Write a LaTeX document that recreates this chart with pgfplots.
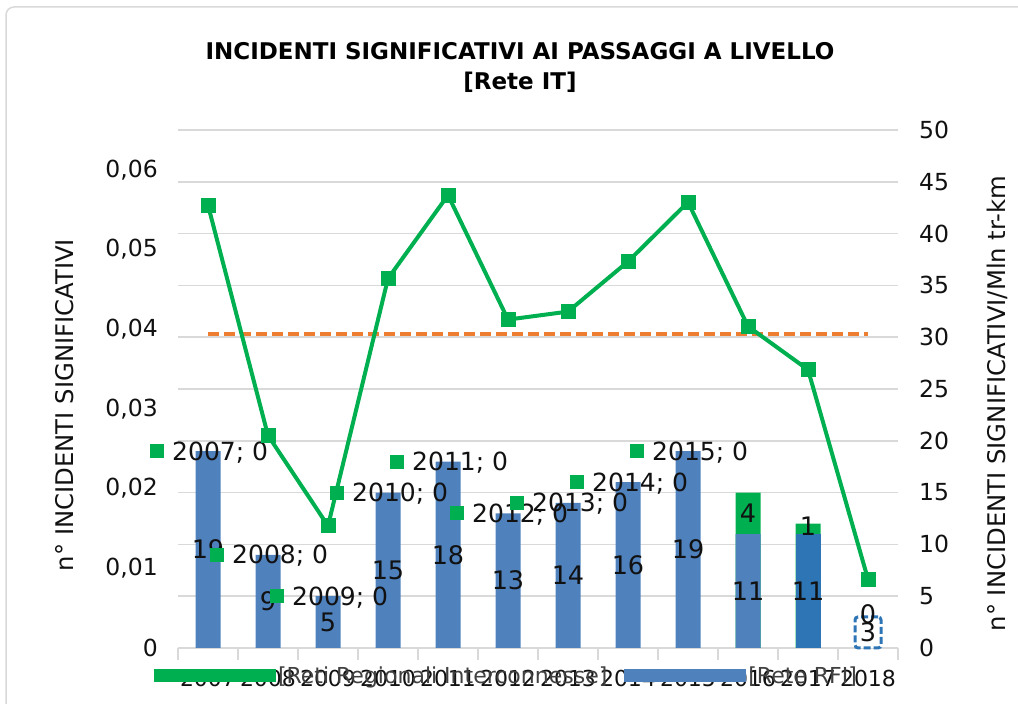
\documentclass[border=0pt]{standalone}
\usepackage{pgfplots}
\usepackage{pgfplotstable}
\pgfplotsset{compat=1.18}
\usepackage{fontspec}
\setmainfont{DejaVu Sans}
\definecolor{rfiblue}{HTML}{4F81BD}
\definecolor{rfidark}{HTML}{2E75B6}
\definecolor{rrigreen}{HTML}{00B050}
\definecolor{reforange}{HTML}{ED7D31}
\definecolor{gridgray}{HTML}{D9D9D9}
\definecolor{txt}{HTML}{111111}
\definecolor{legtxt}{HTML}{404040}

% Rete RFI (right scale)
\pgfplotstableread{
x val
0 19
1 9
2 5
3 15
4 18
5 13
6 14
7 16
8 19
9 11
}\rfiA
\pgfplotstableread{
x val
10 11
}\rfiB
\pgfplotstableread{
x val
11 3
}\rfiC
% totals RFI + Reti Regionali (green part on top)
\pgfplotstableread{
x val
9 15
10 12
}\totals
% value labels, centred in the bars
\pgfplotstableread{
x y lab
0 9.5 19
1 4.5 9
2 2.5 5
3 7.5 15
4 9 18
5 6.5 13
6 7 14
7 8 16
8 9.5 19
9 5.5 11
10 5.5 11
11 1.5 3
}\rfilabels
\pgfplotstableread{
x y lab
9 13 4
10 11.8 1
11 3.3 0
}\rrilabels
% Reti Regionali labels with legend key (value 0) at top of stack
\pgfplotstableread{
x y year
0 19 2007
1 9 2008
2 5 2009
3 15 2010
4 18 2011
5 13 2012
6 14 2013
7 16 2014
8 19 2015
}\rrikeylabels
% rate line (left scale)
\pgfplotstableread{
x rate
0 0.05557
1 0.02667
2 0.01533
3 0.04636
4 0.05682
5 0.04121
6 0.04221
7 0.04849
8 0.05594
9 0.04036
10 0.03492
11 0.00863
}\rate
\pgfplotstableread{
x ref
0 0.03936
11 0.03936
}\reference

\begin{document}
\begin{tikzpicture}[x=1pt,y=1pt]
\path[use as bounding box] (0,0) rectangle (1018,704);
\draw[gridgray, line width=1.5pt, rounded corners=8pt] (6,697) rectangle (1060,-30);

\node[font=\bfseries\fontsize{23}{30}\selectfont, align=center, text=black] at (520,637)
  {INCIDENTI SIGNIFICATIVI AI PASSAGGI A LIVELLO\\{[Rete IT]}};

% ---------- right scale axis: bars -------------
\begin{axis}[
  at={(178pt,56pt)}, anchor=south west, scale only axis,
  width=720pt, height=518pt,
  xmin=-0.5, xmax=11.5, ymin=0, ymax=50,
  clip=false,
  axis x line*=bottom, axis y line*=right,
  x axis line style={gridgray, line width=1.5pt},
  y axis line style={draw=none},
  xtick={0,...,11},
  xticklabels={2007,2008,2009,2010,2011,2012,2013,2014,2015,2016,2017,2018},
  minor xtick={-0.5,0.5,...,11.5},
  tick align=outside,
  major tick length=0pt, minor tick length=12pt,
  minor tick style={gridgray, line width=1.5pt},
  ytick={0,5,...,50},
  ymajorgrids, grid style={gridgray, line width=1.5pt},
  /pgf/number format/assume math mode=true,
  yticklabel style={anchor=west, inner sep=0pt, xshift=21pt, font=\fontsize{23.5}{27}\selectfont, text=txt},
  xticklabel style={anchor=north, inner sep=0pt, yshift=-22pt, font=\fontsize{22}{26}\selectfont, text=txt},
  legend style={at={(axis description cs:-0.0333,-0.054)}, anchor=west, draw=none, fill=none,
    inner sep=0pt, outer sep=0pt, legend columns=2,
    font=\fontsize{22}{26}\selectfont, text=legtxt,
    /tikz/every even column/.append style={column sep=15pt}},
  legend cell align=left,
  legend image code/.code={\fill[#1] (0pt,-6.5pt) rectangle (122pt,6.5pt);},
]
\addplot[ybar, bar width=25pt, bar shift=0pt, fill=rrigreen, draw=none, forget plot] table[x=x,y=val]{\totals};
\addplot[ybar, bar width=25pt, bar shift=0pt, fill=rfiblue, draw=none, forget plot] table[x=x,y=val]{\rfiA};
\addplot[ybar, bar width=25pt, bar shift=0pt, fill=rfidark, draw=none, forget plot] table[x=x,y=val]{\rfiB};
\addplot[ybar, bar width=26pt, bar shift=0pt, fill=white, draw=rfidark, line width=3pt,
  dash pattern=on 7pt off 3pt, rounded corners=3pt, forget plot] table[x=x,y=val]{\rfiC};

\addplot[draw=none, mark=none, forget plot, nodes near coords, point meta=explicit symbolic,
  every node near coord/.style={anchor=center, inner sep=0pt, font=\fontsize{25.5}{28}\selectfont, text=txt}]
  table[x=x,y=y,meta=lab]{\rfilabels};
\addplot[draw=none, mark=none, forget plot, nodes near coords, point meta=explicit symbolic,
  every node near coord/.style={anchor=center, inner sep=0pt, font=\fontsize{25.5}{28}\selectfont, text=txt}]
  table[x=x,y=y,meta=lab]{\rrilabels};
\addplot[draw=none, mark=none, forget plot,
  nodes near coords={\textcolor{rrigreen}{\raisebox{2pt}{\rule{14pt}{14pt}}}\hspace{8pt}\pgfplotspointmeta; 0},
  point meta=explicit symbolic,
  every node near coord/.style={anchor=base west, inner sep=0pt, xshift=-58pt, yshift=-9pt,
     font=\fontsize{25}{28}\selectfont, text=txt}]
  table[x=x,y=y,meta=year]{\rrikeylabels};

\addlegendimage{fill=rrigreen, draw=none}
\addlegendentry{[Reti Regionali Interconnesse]}
\addlegendimage{fill=rfiblue, draw=none}
\addlegendentry{[Rete RFI]}
\end{axis}

% ---------- left scale axis: rate line -------------
\begin{axis}[
  at={(178pt,56pt)}, anchor=south west, scale only axis,
  width=720pt, height=518pt,
  xmin=-0.5, xmax=11.5, ymin=0, ymax=0.065,
  axis x line=none, axis y line*=left,
  y axis line style={draw=none},
  major tick length=0pt,
  scaled y ticks=false,
  ytick={0,0.01,0.02,0.03,0.04,0.05,0.06},
  yticklabels={0,{0,01},{0,02},{0,03},{0,04},{0,05},{0,06}},
  yticklabel style={anchor=east, inner sep=0pt, xshift=-20pt, font=\fontsize{23.5}{27}\selectfont, text=txt},
]
\addplot[reforange, line width=4pt, dash pattern=on 11pt off 5pt, mark=none] table[x=x,y=ref]{\reference};
\addplot[rrigreen, line width=4pt, mark=square*, mark size=7pt,
  mark options={solid, fill=rrigreen, draw=rrigreen, line width=0pt}] table[x=x,y=rate]{\rate};
\end{axis}

\node[rotate=90, font=\fontsize{24.3}{28}\selectfont, text=txt] at (65,299) {n° INCIDENTI SIGNIFICATIVI};
\node[rotate=90, font=\fontsize{24.3}{28}\selectfont, text=txt] at (997,300.5) {n° INCIDENTI SIGNIFICATIVI/Mln tr-km};
\end{tikzpicture}
\end{document}
